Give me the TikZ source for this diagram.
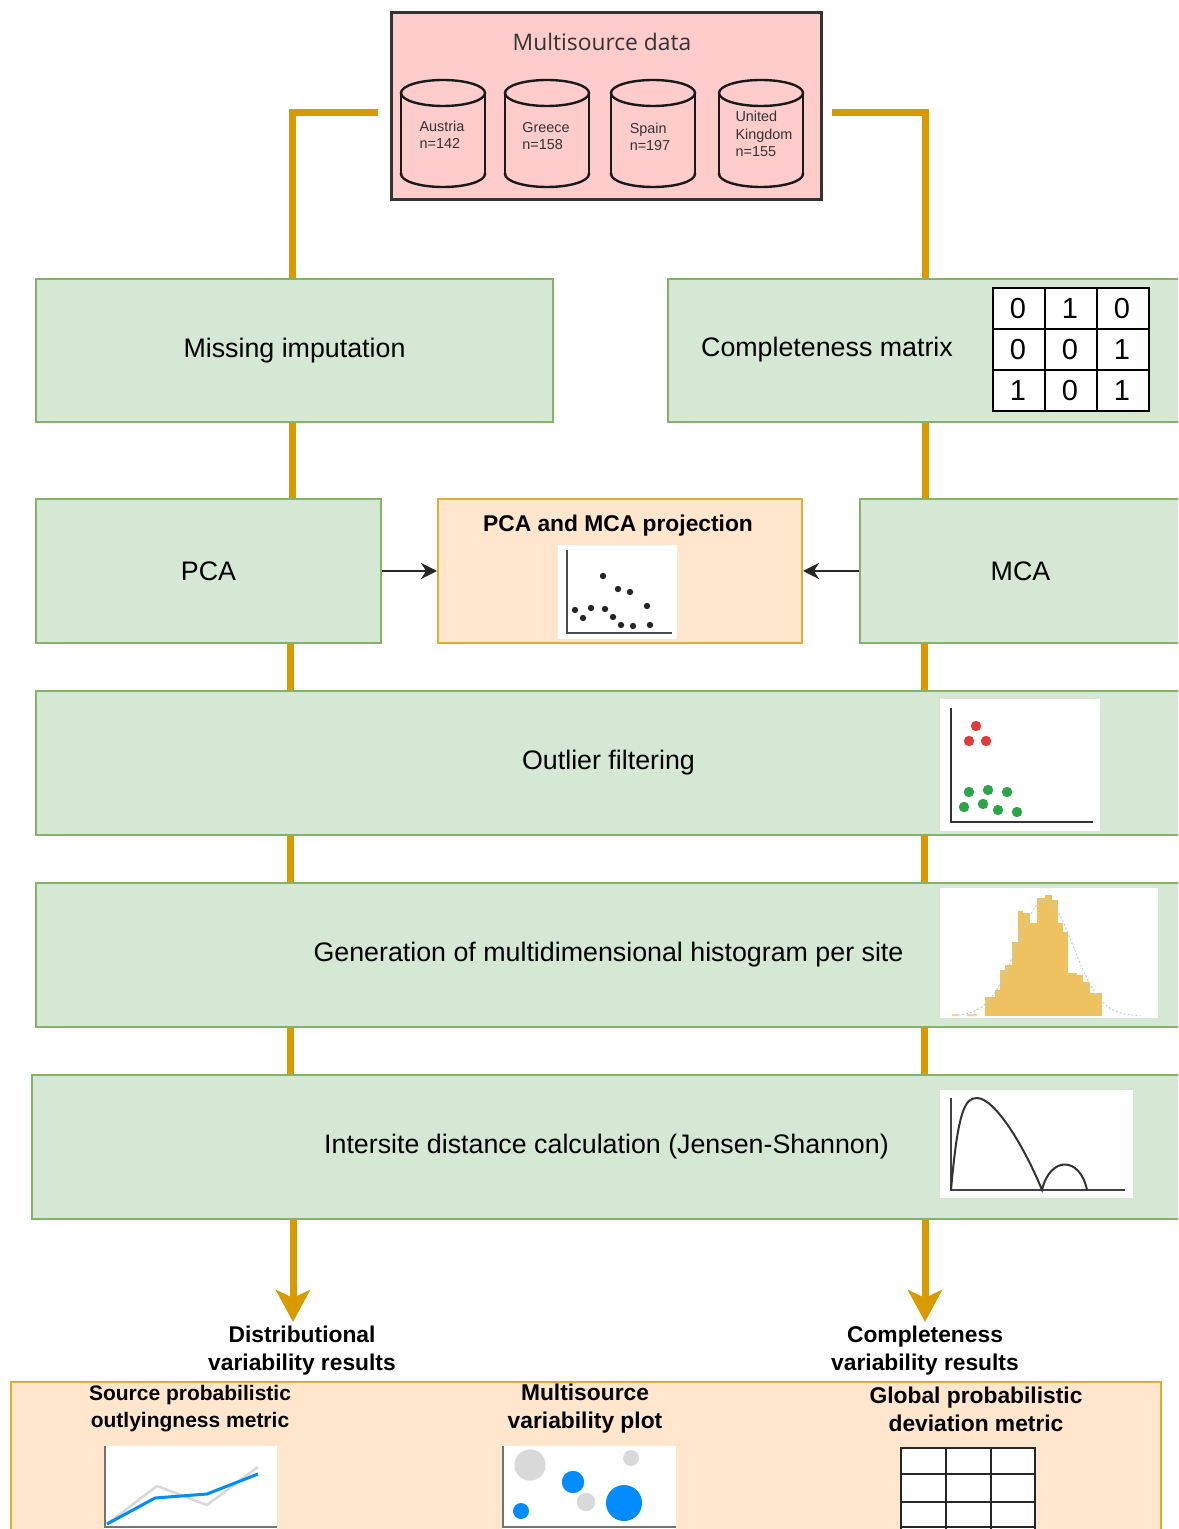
\documentclass[tikz,border=0pt]{standalone}
\usepackage{fontspec}
\setmainfont{Liberation Sans}
\newfontfamily\titlefont{Open Sans}
\usetikzlibrary{arrows.meta,shapes.geometric}
\definecolor{gFill}{HTML}{D5E8D4}
\definecolor{gLine}{HTML}{82B366}
\definecolor{oFill}{HTML}{FFE6CC}
\definecolor{oLine}{HTML}{D79B00}
\definecolor{oBox}{HTML}{E2AC2C}
\definecolor{pFill}{HTML}{FFCCCC}
\definecolor{dark}{HTML}{333333}
\definecolor{histbar}{HTML}{EEC260}
\definecolor{histcurve}{HTML}{A9D4F0}
\definecolor{dotred}{HTML}{E23A3A}
\definecolor{dotgreen}{HTML}{2EA44A}
\definecolor{dotblue}{HTML}{008CFF}
\definecolor{dotgray}{HTML}{D9D9D9}
\newcommand{\mainsz}{\fontsize{13.4}{16}\selectfont}
\newcommand{\boldsz}{\bfseries\fontsize{11.4}{14}\selectfont}
\newcommand{\smallbold}{\bfseries\fontsize{10.5}{13.5}\selectfont}
\newcommand{\midbold}{\bfseries\fontsize{11.4}{14}\selectfont}
\newcommand{\cylsz}{\fontsize{7.2}{8.6}\selectfont}
\begin{document}
\begin{tikzpicture}[x=0.5pt,y=-0.5pt,
  greenbox/.style={draw=gLine, fill=gFill, line width=1pt, inner sep=0pt, anchor=north west, font=\mainsz},
  orangebox/.style={draw=oBox, fill=oFill, line width=1pt, inner sep=0pt, anchor=north west},
  databox/.style={draw=dark, fill=pFill, line width=1.3pt, inner sep=0pt, anchor=north west},
  oline/.style={draw=oLine, line width=3.5pt},
  blackarrow/.style={draw=black!85, line width=1.3pt, -{Stealth[length=8pt, width=8pt]}},
  bigarrow/.style={oline, -{Stealth[length=16pt, width=17pt, inset=4pt]}},
  cyltext/.style={font=\cylsz, text=dark, align=left},
  reslabel/.style={font=\boldsz, align=center, inner sep=0pt},
  sublabel/.style={font=\smallbold, align=center, inner sep=0pt},
  midlabel/.style={font=\midbold, align=center, inner sep=0pt},
  axis/.style={draw=dark, line width=0.8pt}
]
\useasboundingbox (0,0) rectangle (1178,1529);
\clip (0,0) rectangle (1178,1529);

% ---------- Multisource data ----------
\node[databox, minimum width=215pt, minimum height=93.5pt] (data) at (390,11) {};
\node[font=\titlefont\fontsize{11.4}{13}\selectfont, text=dark] (datatitle) at (602,42) {Multisource data};
\foreach \cx in {443,547,653,761}{
  \fill[pFill] (\cx-42,93) rectangle (\cx+42,174);
  \draw[draw=black!90, line width=1.2pt, fill=pFill] (\cx,174) ellipse [x radius=21pt, y radius=6.5pt];
  \fill[pFill] (\cx-42,93) rectangle (\cx+42,173);
  \draw[draw=black!90, line width=1.2pt] (\cx-42,93) -- (\cx-42,174) (\cx+42,93) -- (\cx+42,174);
  \draw[draw=black!90, line width=1.2pt, fill=pFill] (\cx,93) ellipse [x radius=21pt, y radius=6.5pt];
}
\node[cyltext] (austria) at (442,135) {Austria\\n=142};
\node[cyltext] (greece) at (546,136) {Greece\\n=158};
\node[cyltext] (spain) at (650,137) {Spain\\n=197};
\node[cyltext] (uk) at (764,134) {United\\Kingdom\\n=155};

% ---------- boxes ----------
\node[greenbox, minimum width=258.5pt, minimum height=71.5pt] (miss) at (35,278) {Missing imputation};
\node[greenbox, minimum width=256.5pt, minimum height=71.5pt] (comp) at (667,278) {};
\node[font=\mainsz] (comptext) at (827,350) {Completeness matrix};
\node[greenbox, minimum width=172.5pt, minimum height=72pt] (pca) at (35,498) {PCA};
\node[orangebox, minimum width=182pt, minimum height=72pt] (proj) at (437,498) {};
\node[font=\boldsz] (projtitle) at (618,526) {PCA and MCA projection};
\node[greenbox, minimum width=160.5pt, minimum height=72pt] (mca) at (859,498) {MCA};
\node[greenbox, minimum width=572.5pt, minimum height=72pt] (out) at (35,690) {Outlier filtering};
\node[greenbox, minimum width=572.5pt, minimum height=72pt] (hist) at (35,882) {Generation of multidimensional histogram per site};
\node[greenbox, minimum width=574.5pt, minimum height=72pt] (js) at (31,1074) {Intersite distance calculation (Jensen-Shannon)};

% ---------- completeness matrix ----------
\fill[white] (993,288) rectangle (1149,411);
\draw[black, line width=1pt] (993,288) rectangle (1149,411);
\foreach \x in {1045,1097} \draw[black, line width=1pt] (\x,288) -- (\x,411);
\foreach \y in {329,370} \draw[black, line width=1pt] (993,\y) -- (1149,\y);
\foreach \v [count=\i from 0] in {0,1,0,0,0,1,1,0,1}{
  \pgfmathtruncatemacro{\col}{mod(\i,3)}
  \pgfmathtruncatemacro{\row}{div(\i,3)}
  \node[font=\fontsize{14.5}{16}\selectfont, inner sep=0pt] (m\i) at ({1018+52*\col},{309+41*\row}) {\v};
}

% ---------- projection scatter ----------
\fill[white] (558,545) rectangle (677,639);
\draw[draw=black!70, line width=0.8pt] (567,550) -- (567,633) -- (672,633);
\foreach \px/\py in {603/576,618/589,630/592,575/610,583/618,591/608,605/609,613/617,647/606,621/625,633/626,650/625}
  \fill[black!85] (\px,\py) circle [radius=1.6pt];

% ---------- outlier plot ----------
\fill[white] (940,699) rectangle (1100,831);
\draw[axis] (951,708) -- (951,822) -- (1093,822);
\foreach \px/\py in {976/726,969/741,986/741}
  \fill[dotred] (\px,\py) circle [radius=2.6pt];
\foreach \px/\py in {969/792,988/790,1007/792,964/807,983/804,998/810,1017/812}
  \fill[dotgreen] (\px,\py) circle [radius=2.6pt];

% ---------- histogram ----------
\fill[white] (940,888) rectangle (1158,1018);
\fill[histbar!70] (952,1014) rectangle (958,1016) (967,1014) rectangle (977,1016);
\foreach \xa/\xb/\t in {985/995/997,995/1000/990,1000/1005/970,1005/1012/965,1012/1018/942,1018/1023/911,1023/1030/913,1030/1037/923,1037/1045/898,1045/1052/895,1052/1058/900,1058/1063/923,1063/1068/932,1068/1077/973,1077/1083/975,1083/1090/982,1090/1095/993,1095/1102/993}
  \fill[histbar] (\xa,1016) rectangle (\xb,\t);
\draw[histcurve, line width=0.5pt, dash pattern=on 1pt off 1pt, domain=958:1140, samples=60, smooth, variable=\t]
  plot (\t,{1016-116*exp(-((\t-1045)/28)^2/2)});

% ---------- JS curve ----------
\fill[white] (940,1090) rectangle (1133,1198);
\draw[draw=black!75, line width=0.8pt] (951,1098) -- (951,1190) -- (1125,1190);
\draw[draw=black!80, line width=1pt] (951,1190) .. controls (958,1110) and (965,1098) .. (977,1098)
  .. controls (995,1098) and (1025,1148) .. (1042,1190)
  .. controls (1050,1156) and (1080,1156) .. (1087,1190);

% ---------- connectors ----------
\coordinate (xl) at (292,0);
\coordinate (xlm) at (290,0);
\coordinate (xla) at (293,0);
\coordinate (xr) at (925,0);
\coordinate (xrm) at (924,0);
\coordinate (dl) at (378,113);
\coordinate (dr) at (832,113);
\coordinate (tipl) at (293,1322);
\coordinate (tipr) at (925,1322);
\draw[oline] (dl) -| (miss.north -| xl);
\draw[oline] (dr) -| (comp.north -| xr);
\draw[oline] (miss.south -| xl) -- (pca.north -| xl);
\draw[oline] (comp.south -| xr) -- (mca.north -| xr);
\draw[oline] (pca.south -| xlm) -- (out.north -| xlm);
\draw[oline] (mca.south -| xrm) -- (out.north -| xrm);
\draw[oline] (out.south -| xlm) -- (hist.north -| xlm);
\draw[oline] (out.south -| xrm) -- (hist.north -| xrm);
\draw[oline] (hist.south -| xlm) -- (js.north -| xlm);
\draw[oline] (hist.south -| xrm) -- (js.north -| xrm);
\draw[bigarrow] (js.south -| xla) -- (tipl);
\draw[bigarrow] (js.south -| xr) -- (tipr);
\draw[blackarrow] (pca.east) -- (proj.west);
\draw[blackarrow] (mca.west) -- (proj.east);

% ---------- results ----------
\node[reslabel] (distres) at (302,1351) {Distributional\\variability results};
\node[reslabel] (compres) at (925,1351) {Completeness\\variability results};
\node[orangebox, minimum width=575pt, minimum height=90pt] (results) at (10,1381) {};
\node[sublabel] (srcmetric) at (190,1409) {Source probabilistic\\outlyingness metric};
\node[midlabel] (msplot) at (585,1409) {Multisource\\variability plot};
\node[midlabel] (globmetric) at (976,1409) {Global probabilistic\\deviation metric};

% line plot
\fill[white] (104,1446) rectangle (277,1535);
\draw[draw=black!55, line width=1.2pt] (105,1446) -- (105,1527) -- (277,1527);
\draw[dotgray, line width=1.3pt, line join=round] (107,1524) -- (157,1486) -- (207,1505) -- (258,1467);
\draw[dotblue, line width=1.5pt, line join=round] (107,1524) -- (155,1498) -- (207,1494) -- (258,1474);

% bubble plot
\fill[white] (502,1446) rectangle (676,1535);
\draw[draw=black!55, line width=1.2pt] (503,1446) -- (503,1527) -- (676,1527);
\fill[dotgray] (530,1465) circle [radius=7.8pt];
\fill[dotgray] (586,1502) circle [radius=4.6pt];
\fill[dotgray] (631,1458) circle [radius=4pt];
\fill[dotblue] (573,1482) circle [radius=5.6pt];
\fill[dotblue] (521,1511) circle [radius=4pt];
\fill[dotblue] (624,1503) circle [radius=9pt];

% grid table
\fill[white] (901,1448) rectangle (1035,1535);
\draw[black!85, line width=1pt] (901,1535) -- (901,1448) -- (1035,1448) -- (1035,1535);
\foreach \x in {946,991} \draw[black!85, line width=1pt] (\x,1448) -- (\x,1535);
\foreach \y in {1474,1502,1527} \draw[black!85, line width=1pt] (901,\y) -- (1035,\y);
\end{tikzpicture}
\end{document}
